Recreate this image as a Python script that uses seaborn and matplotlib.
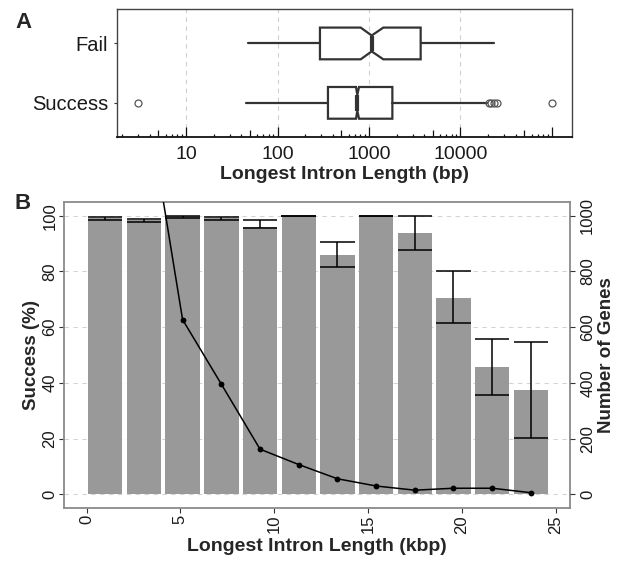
import numpy as np
import pandas as pd
import matplotlib
matplotlib.use("Agg")
import matplotlib.pyplot as plt
import seaborn as sns

# ---------------- Panel A: box statistics (bp) ----------------
groups = ["Success", "Fail"]
whisker_low = [45, 47]
q1 = [356, 291]
median = [745, 1070]
q3 = [1800, 3670]
whisker_high = [19300, 23400]
notch_low = [721, 811]
notch_high = [778, 1433]
outliers = [[3, 20600, 21800, 23300, 24800, 100000], []]
decade_labels = ["10", "100", "1000", "10000"]
decade_values = [10, 100, 1000, 10000]

# ---------------- Panel B ----------------
bin_centers_kbp = [0.99, 3.06, 5.12, 7.19, 9.25, 11.31, 13.37, 15.44, 17.50, 19.56, 21.62, 23.68]
success_pct = [99.1, 98.3, 99.7, 99.1, 96.1, 100.0, 86.0, 100.0, 93.6, 70.6, 45.6, 37.3]
ci_low = [98.6, 97.6, 99.3, 98.4, 95.5, 99.8, 81.5, 100.0, 87.6, 61.4, 35.5, 20.1]
ci_high = [99.5, 98.9, 100.0, 99.6, 98.3, 100.0, 90.6, 100.0, 99.8, 80.0, 55.9, 54.5]
n_genes = [2600, 1480, 627, 395, 162, 107, 56, 30, 15, 22, 22, 6]
x_ticks_kbp = [0, 5, 10, 15, 20, 25]
y_ticks_pct = [0, 20, 40, 60, 80, 100]
y_ticks_genes = [0, 200, 400, 600, 800, 1000]

sns.set_theme(style="white")
plt.rcParams["font.family"] = ["Liberation Sans", "DejaVu Sans"]
plt.rcParams["axes.unicode_minus"] = False

W, H = 622, 565
fig = plt.figure(figsize=(W / 100, H / 100), dpi=100)

def frac(l, t, r, b):
    return [l / W, 1 - b / H, (r - l) / W, (b - t) / H]

axA = fig.add_axes(frac(117.3, 9, 572.3, 137.3))
axB = fig.add_axes(frac(64, 201.7, 570, 508.3))

# ================= Panel A =================
box_col = "#333333"
stats = []
for i, g in enumerate(groups):
    stats.append(dict(label=g, whislo=whisker_low[i], q1=q1[i], med=median[i],
                      q3=q3[i], whishi=whisker_high[i], cilo=notch_low[i],
                      cihi=notch_high[i], fliers=outliers[i]))
axA.set_xscale("log")
bxp_kw = dict(positions=[1, 2], widths=0.534, shownotches=True, showcaps=False,
              patch_artist=True,
              boxprops=dict(facecolor="white", edgecolor=box_col, linewidth=1.6),
              whiskerprops=dict(color=box_col, linewidth=1.6),
              medianprops=dict(color=box_col, linewidth=3.0),
              flierprops=dict(marker="o", markerfacecolor="none",
                              markeredgecolor="#555555", markersize=5,
                              markeredgewidth=0.9))
try:
    axA.bxp(stats, orientation="horizontal", **bxp_kw)
except TypeError:
    axA.bxp(stats, vert=False, **bxp_kw)

xminA, xmaxA = 10 ** 0.249, 10 ** 5.222
axA.set_xlim(xminA, xmaxA)
axA.set_ylim(0.42, 2.58)
axA.set_xticks(decade_values)
axA.set_xticklabels(decade_labels)
axA.xaxis.set_minor_locator(matplotlib.ticker.NullLocator())
axA.tick_params(axis="x", length=0, pad=6.5, labelsize=14, labelcolor="#1a1a1a")
axA.set_yticks([1, 2])
axA.set_yticklabels(groups)
axA.tick_params(axis="y", length=2.5, width=0.8, color="#333333", pad=4,
                labelsize=14.5, labelcolor="#1a1a1a", left=True)
axA.set_axisbelow(True)
axA.xaxis.grid(True, which="major", linestyle=(0, (4, 4)), color="#cfcfcf", lw=0.8)
axA.yaxis.grid(False)
for s in axA.spines.values():
    s.set_color("#444444")
    s.set_linewidth(1.0)
axA.spines["bottom"].set_color("#111111")
axA.spines["bottom"].set_linewidth(1.3)

# log ticks drawn inside the panel at the bottom
trans = axA.get_xaxis_transform()
axh_px = 137.3 - 9
for e in range(0, 6):
    for m in range(1, 10):
        v = m * 10 ** e
        if v < xminA or v > xmaxA:
            continue
        L = 10.7 if m == 1 else (7.0 if m == 5 else 3.6)
        axA.plot([v, v], [0, L / axh_px], transform=trans, color="#111111",
                 lw=0.9, solid_capstyle="butt")
axA.set_xlabel("Longest Intron Length (bp)", fontsize=14, fontweight="bold",
               labelpad=2)

# ================= Panel B =================
sns.barplot(x=bin_centers_kbp, y=success_pct, native_scale=True, width=0.89,
            color="#999999", saturation=1, errorbar=None, linewidth=0, ax=axB)
half = 0.92
cx = np.array(bin_centers_kbp)
axB.vlines(cx, ci_low, ci_high, color="black", lw=1.1)
axB.hlines(ci_low, cx - half, cx + half, color="black", lw=1.1)
axB.hlines(ci_high, cx - half, cx + half, color="black", lw=1.1)

axB.set_xlim(-1.2, 25.77)
axB.set_ylim(-5, 105)
axB.set_xticks(x_ticks_kbp)
axB.set_xticklabels([str(v) for v in x_ticks_kbp], rotation=90)
axB.set_yticks(y_ticks_pct)
axB.set_yticklabels([str(v) for v in y_ticks_pct], rotation=90, va="center")
axB.tick_params(axis="both", length=3.3, width=0.8, color="#333333", pad=1.5,
                labelsize=12, labelcolor="#1a1a1a", left=True, bottom=True)
axB.set_axisbelow(True)
axB.yaxis.grid(True, linestyle=(0, (4, 4)), color="#d4d4d4", lw=0.8)
axB.xaxis.grid(False)
for s in axB.spines.values():
    s.set_color("#8a8a8a")
    s.set_linewidth(1.3)
axB.set_xlabel("Longest Intron Length (kbp)", fontsize=14, fontweight="bold",
               labelpad=3)
axB.set_ylabel("Success (%)", fontsize=13.5, fontweight="bold", labelpad=2)

ax2 = axB.twinx()
sns.lineplot(x=bin_centers_kbp, y=n_genes, ax=ax2, color="black", marker="o",
             markersize=4.2, markeredgewidth=0, linewidth=1.1)
ax2.set_ylim(-50, 1050)
ax2.set_yticks(y_ticks_genes)
ax2.set_yticklabels([str(v) for v in y_ticks_genes], rotation=90, va="center")
ax2.tick_params(axis="y", length=3.3, width=0.8, color="#333333", pad=4,
                labelsize=12, labelcolor="#1a1a1a", right=True)
ax2.grid(False)
for s in ax2.spines.values():
    s.set_visible(False)
ax2.set_ylabel("Number of Genes", fontsize=13.5, fontweight="bold", labelpad=2)
ax2.set_xlim(-1.2, 25.77)

# panel letters
fig.text(15 / W, 1 - 23 / H, "A", fontsize=16, fontweight="bold", va="center", ha="left")
fig.text(15 / W, 1 - 204 / H, "B", fontsize=16, fontweight="bold", va="center", ha="left")

fig.savefig("out.png", dpi=100)
